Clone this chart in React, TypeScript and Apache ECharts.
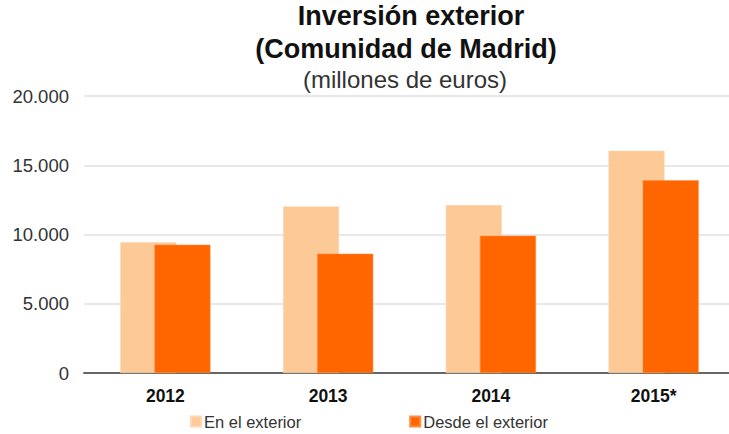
import React, { useEffect, useRef } from "react";
import * as echarts from "echarts";

const categories = ["2012", "2013", "2014", "2015*"];
const enElExterior = [9440, 12030, 12130, 16050];
const desdeElExterior = [9260, 8610, 9910, 13910];
const yTicks = { min: 0, max: 20000, interval: 5000 };

const FONT = "'Liberation Sans', Arial, Helvetica, sans-serif";

export default function App() {
  const ref = useRef<HTMLDivElement>(null);
  useEffect(() => {
    if (!ref.current) return;
    const chart = echarts.init(ref.current, undefined, { renderer: "svg" });
    chart.setOption({
      animation: false,
      backgroundColor: "#ffffff",
      textStyle: { fontFamily: FONT },
      title: [
        {
          text: "Inversión exterior",
          left: 411,
          top: 2,
          padding: 0,
          textAlign: "center",
          textStyle: { fontFamily: FONT, fontSize: 27, fontWeight: "bold", color: "#111" },
        },
        {
          text: "(Comunidad de Madrid)",
          left: 406,
          top: 35,
          padding: 0,
          textAlign: "center",
          textStyle: { fontFamily: FONT, fontSize: 27, fontWeight: "bold", color: "#111" },
        },
        {
          text: "(millones de euros)",
          left: 405,
          top: 67,
          padding: 0,
          textAlign: "center",
          textStyle: { fontFamily: FONT, fontSize: 24, fontWeight: "normal", color: "#333" },
        },
      ],
      legend: {
        left: 190,
        top: 413,
        padding: 0,
        itemWidth: 10,
        itemHeight: 10,
        itemGap: 108,
        icon: "rect",
        textStyle: { fontFamily: FONT, fontSize: 16.5, color: "#333", padding: [0, 0, 0, -2] },
        data: ["En el exterior", "Desde el exterior"],
      },
      grid: { left: 84, top: 96, width: 651, height: 277, containLabel: false },
      xAxis: {
        type: "category",
        data: categories,
        axisLine: { lineStyle: { color: "#666", width: 2 } },
        axisTick: { show: false },
        axisLabel: {
          fontFamily: FONT,
          fontSize: 17.5,
          fontWeight: "bold",
          color: "#111",
          margin: 14,
        },
      },
      yAxis: {
        type: "value",
        min: yTicks.min,
        max: yTicks.max,
        interval: yTicks.interval,
        axisLine: { show: false },
        axisTick: { show: false },
        splitLine: { lineStyle: { color: "#e0e0e0", width: 1.5 } },
        axisLabel: {
          fontFamily: FONT,
          fontSize: 18.5,
          color: "#333",
          margin: 15,
          formatter: (v: number) =>
            v === 0 ? "0" : v.toString().replace(/\B(?=(\d{3})+(?!\d))/g, "."),
        },
      },
      series: [
        {
          name: "En el exterior",
          type: "bar",
          data: enElExterior,
          barWidth: 56,
          barGap: "-39%",
          itemStyle: { color: "#fdc997", borderColor: "#fdd9b5", borderWidth: 0.5 },
        },
        {
          name: "Desde el exterior",
          type: "bar",
          data: desdeElExterior,
          barWidth: 56,
          barGap: "-39%",
          itemStyle: { color: "#ff6600", borderColor: "#ff8a40", borderWidth: 0.5 },
        },
      ],
    });
    return () => chart.dispose();
  }, []);
  return (
    <div
      ref={ref}
      style={{ position: "fixed", left: 0, top: 0, width: 740, height: 434 }}
    />
  );
}
